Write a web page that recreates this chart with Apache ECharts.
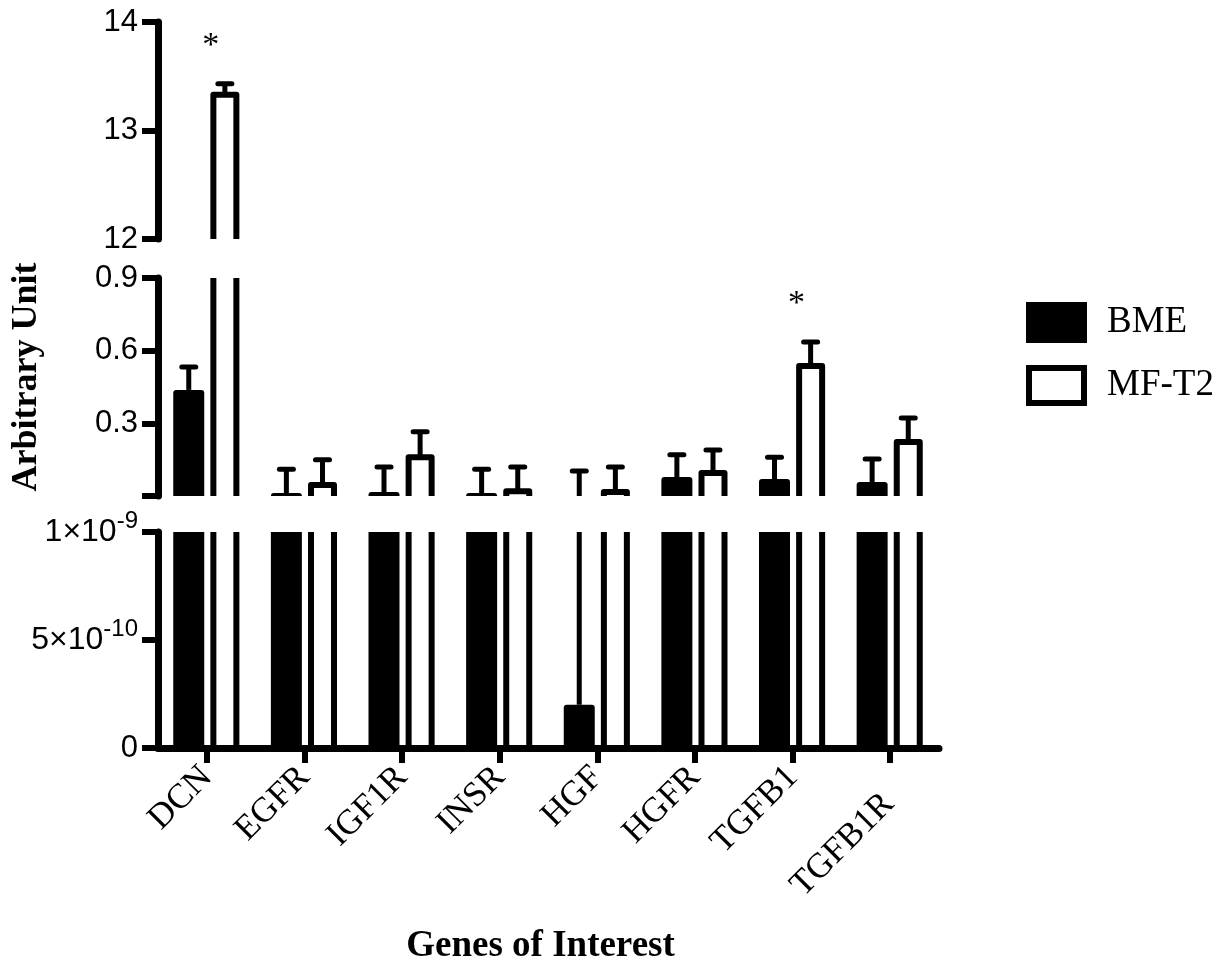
<!DOCTYPE html>
<html><head><meta charset="utf-8">
<script src="https://cdn.jsdelivr.net/npm/echarts@6/dist/echarts.min.js"></script>
<style>html,body{margin:0;padding:0;background:#fff}#chart{width:1226px;height:968px}</style>
</head><body><div id="chart"></div>
<script>
// ---- data ----
const categories = ['DCN', 'EGFR', 'IGF1R', 'INSR', 'HGF', 'HGFR', 'TGFB1', 'TGFB1R'];
const bmeMean  = [0.438, 0.012, 0.016, 0.012, 2e-10, 0.078, 0.070, 0.058];
const bmeErr   = [0.095, 0.098, 0.104, 0.098, 0.103, 0.092, 0.090, 0.095];
const mft2Mean = [13.33, 0.045, 0.160, 0.020, 0.016, 0.095, 0.537, 0.223];
const mft2Err  = [0.100, 0.105, 0.105, 0.100, 0.104, 0.095, 0.099, 0.099];
const significance = ['*', '', '', '', '', '', '*', ''];
const seriesNames = ['BME', 'MF-T2'];
// axis segments of the broken y axis (top, middle, bottom)
const segMin = [12, 0, 0];
const segMax = [14, 0.9, 1e-9];
const segInterval = [1, 0.3, 5e-10];
const topTickLabels = ['12', '13', '14'];
const midTickLabels = ['', '0.3', '0.6', '0.9'];
const lowTickLabels = ['0', '{m|5×10}{s|-10}', '{m|1×10}{s|-9}'];
const tickLabels = [topTickLabels, midTickLabels, lowTickLabels];

// ---- layout ----
const gridTop = [22, 278, 532];
const gridHeight = [217, 218, 216];
const gridLeft = 158, gridWidth = 781;
const SANS = '"Liberation Sans", Arial, sans-serif';
const SERIF = '"Liberation Serif", "Times New Roman", serif';

function makeRender(kind, yMin) {
  return function (params, api) {
    const i = api.value(0), v = api.value(1), e = api.value(2);
    const cs = params.coordSys;
    const lo = cs.y - 30, hi = cs.y + cs.height + 30;
    const cl = y => Math.min(hi, Math.max(lo, y));
    const band = api.size([1, 0])[0];
    const base = api.coord([i, yMin]);
    const cx = base[0] + (kind === 'BME' ? -0.185 : 0.185) * band;
    const yBase = base[1];
    const children = [];
    if (v > yMin) {
      const yTop = cl(api.coord([i, v])[1]);
      if (kind === 'BME') {
        children.push({type: 'rect', shape: {x: cx - 15.5, y: yTop, width: 31, height: yBase - yTop + 4, r: [3, 3, 0, 0]}, style: {fill: '#000'}});
      } else {
        children.push({type: 'polyline', shape: {points: [[cx - 11.5, yBase + 6], [cx - 11.5, yTop], [cx + 11.5, yTop], [cx + 11.5, yBase + 6]]},
          style: {stroke: '#000', fill: null, lineWidth: 6, lineJoin: 'round'}});
      }
    }
    const vTop = v + e;
    if (vTop > yMin) {
      const y1 = cl(api.coord([i, Math.max(v, yMin)])[1]);
      const y2raw = api.coord([i, vTop])[1];
      const y2 = cl(y2raw);
      children.push({type: 'line', shape: {x1: cx, y1: y1, x2: cx, y2: y2}, style: {stroke: '#000', lineWidth: 5}});
      if (y2raw >= cs.y - 4 && y2raw <= cs.y + cs.height) {
        children.push({type: 'line', shape: {x1: cx - 7, y1: y2raw, x2: cx + 7, y2: y2raw}, style: {stroke: '#000', lineWidth: 5, lineCap: 'round'}});
        if (kind !== 'BME' && significance[params.dataIndex]) {
          children.push({type: 'text', x: cx - 14, y: y2raw - 38,
            style: {text: significance[params.dataIndex], fill: '#000', fontSize: 34, fontFamily: SERIF, align: 'center', verticalAlign: 'middle'}});
        }
      }
    }
    return {type: 'group', children: children};
  };
}

const grids = [], xAxes = [], yAxes = [], series = [];
for (let g = 0; g < 3; g++) {
  grids.push({left: gridLeft, width: gridWidth, top: gridTop[g], height: gridHeight[g]});
  const isBottom = g === 2;
  xAxes.push({
    type: 'category', gridIndex: g, data: categories, show: isBottom,
    axisLine: {show: isBottom, lineStyle: {color: '#000', width: 7}},
    axisTick: {show: isBottom, alignWithLabel: true, length: 15, lineStyle: {color: '#000', width: 6}},
    axisLabel: {show: isBottom, rotate: 45, margin: 24, color: '#000', fontFamily: SERIF, fontSize: 35,
      formatter: function (val) { return val === 'TGFB1R' ? '{d|' + val + '}' : val; },
      rich: {d: {fontFamily: SERIF, fontSize: 35, color: '#000', padding: [36, 20, 0, 0]}}},
    name: isBottom ? 'Genes of Interest' : '', nameLocation: 'middle', nameGap: 180,
    nameTextStyle: {fontFamily: SERIF, fontWeight: 'bold', fontSize: 37, color: '#000', padding: [0, 16, 0, 0]}
  });
  const labels = tickLabels[g];
  yAxes.push({
    type: 'value', gridIndex: g, min: segMin[g], max: segMax[g], interval: segInterval[g],
    splitLine: {show: false},
    axisLine: {show: true, lineStyle: {color: '#000', width: 7}},
    axisTick: {show: true, length: 16, lineStyle: {color: '#000', width: 6}},
    axisLabel: {margin: 20, color: '#000', fontFamily: SANS, fontSize: 31,
      formatter: function (val, idx) { return labels[idx]; },
      rich: {m: {fontFamily: SANS, fontSize: 32, color: '#000'},
             s: {fontFamily: SANS, fontSize: 24, color: '#000', padding: [0, 0, 22, 0]}}},
    name: g === 1 ? 'Arbitrary Unit' : '', nameLocation: 'middle', nameGap: 113, nameRotate: 90,
    nameTextStyle: {fontFamily: SERIF, fontWeight: 'bold', fontSize: 36, color: '#000', padding: [0, 0, 0, 20]}
  });
  series.push({
    type: 'custom', name: seriesNames[0], xAxisIndex: g, yAxisIndex: g, clip: true,
    renderItem: makeRender('BME', segMin[g]), encode: {x: 0, y: 1},
    itemStyle: {color: '#000'},
    data: categories.map((c, i) => [i, bmeMean[i], bmeErr[i]])
  });
  series.push({
    type: 'custom', name: seriesNames[1], xAxisIndex: g, yAxisIndex: g, clip: true,
    renderItem: makeRender('MF', segMin[g]), encode: {x: 0, y: 1},
    itemStyle: {color: '#fff', borderColor: '#000', borderWidth: 6},
    data: categories.map((c, i) => [i, mft2Mean[i], mft2Err[i]])
  });
}

const chart = echarts.init(document.getElementById('chart'), null, {renderer: 'canvas'});
chart.setOption({
  animation: false,
  backgroundColor: '#fff',
  grid: grids, xAxis: xAxes, yAxis: yAxes, series: series,
  legend: {
    orient: 'vertical', left: 1021, top: 297, itemWidth: 55, itemHeight: 35, itemGap: 22,
    selectedMode: false,
    textStyle: {fontFamily: SERIF, fontSize: 37, color: '#000', lineHeight: 35, padding: [0, 0, 0, 18]},
    data: [
      {name: seriesNames[0], icon: 'rect', itemStyle: {color: '#000', borderColor: '#000', borderWidth: 6}},
      {name: seriesNames[1], icon: 'rect', itemStyle: {color: '#fff', borderColor: '#000', borderWidth: 6}}
    ]
  }
});
</script></body></html>
